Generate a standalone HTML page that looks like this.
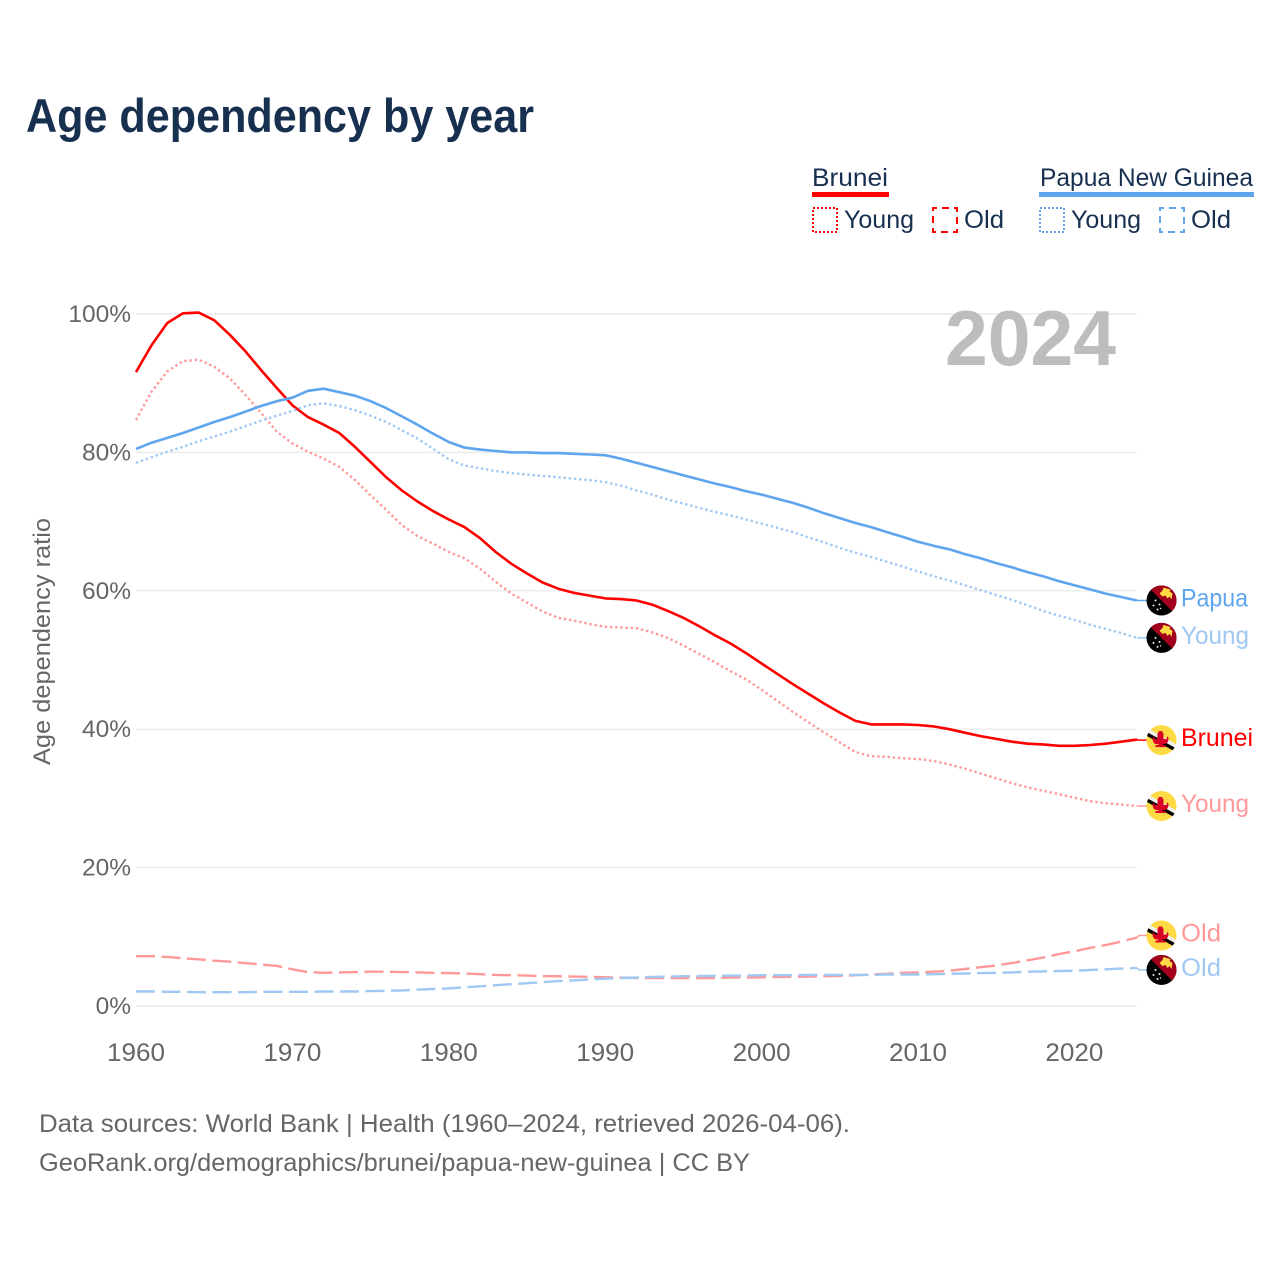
<!DOCTYPE html>
<html lang="en">
<head>
<meta charset="utf-8">
<title>Age dependency by year</title>
<style>
html,body{margin:0;padding:0;background:#fff;}
svg{display:block;font-family:"Liberation Sans",sans-serif;}
</style>
</head>
<body>
<svg id="chart" xmlns="http://www.w3.org/2000/svg" width="1280" height="1280" viewBox="0 0 1280 1280">
  <defs>
    <clipPath id="flag-clip"><circle cx="0" cy="0" r="15"/></clipPath>
    <g id="flag-png">
      <g clip-path="url(#flag-clip)">
        <rect x="-16" y="-16" width="32" height="32" fill="#000"/>
        <path d="M-16,-16H16V16Z" fill="#a2001d"/>
        <path d="M-2,-7l3,-3l1,-3l3,1l4,1l-1,2l3,2l-1,6l-2,-3l-2,2l-2,-3l-3,1z" fill="#ffda44"/>
        <g fill="#eee">
          <circle cx="-6" cy="0" r="1"/><circle cx="-2" cy="4" r="1"/><circle cx="-8" cy="5" r="1"/><circle cx="-4" cy="9" r="1"/><circle cx="-1" cy="8" r=".7"/>
        </g>
      </g>
    </g>
    <g id="flag-brunei">
      <g clip-path="url(#flag-clip)">
        <rect x="-16" y="-16" width="32" height="32" fill="#ffda44"/>
        <path d="M-18,-10L16,9L16,13L-18,-6Z" fill="#000"/>
        <path d="M-18,-14L16,5L16,9L-18,-10Z" fill="#f0f0f0"/>
        <path d="M-1,-9h2v2h1v6h3l1,-3l1,2c0,4,-2,6,-4,6h-2v1h3v2h-10v-2h3v-1h-2c-2,0,-4,-2,-4,-6l1,-2l1,3h3v-6h1v-2z" fill="#d80027"/>
      </g>
    </g>
  </defs>
  <rect x="0" y="0" width="1280" height="1280" fill="#fff"/>

  <text x="26" y="132" font-size="47" font-weight="700" fill="#18304f" textLength="508" lengthAdjust="spacingAndGlyphs">Age dependency by year</text>

  <g font-size="25" fill="#18304f">
    <text x="812" y="186" textLength="76" lengthAdjust="spacingAndGlyphs">Brunei</text>
    <rect x="812" y="192" width="77" height="5" fill="#ff0000"/>
    <rect x="813" y="208" width="24" height="24" fill="none" stroke="#ff0000" stroke-width="2" stroke-dasharray="2 2"/>
    <text x="844" y="228" textLength="70" lengthAdjust="spacingAndGlyphs">Young</text>
    <rect x="933" y="208" width="24" height="24" fill="none" stroke="#ff0000" stroke-width="2" stroke-dasharray="7 5" stroke-dashoffset="3"/>
    <text x="964" y="228" textLength="40" lengthAdjust="spacingAndGlyphs">Old</text>
    <text x="1040" y="186" textLength="213" lengthAdjust="spacingAndGlyphs">Papua New Guinea</text>
    <rect x="1039" y="192" width="215" height="5" fill="#5fa5ee"/>
    <rect x="1040" y="208" width="24" height="24" fill="none" stroke="#5fa5ee" stroke-width="2" stroke-dasharray="2 2"/>
    <text x="1071" y="228" textLength="70" lengthAdjust="spacingAndGlyphs">Young</text>
    <rect x="1160" y="208" width="24" height="24" fill="none" stroke="#5fa5ee" stroke-width="2" stroke-dasharray="7 5" stroke-dashoffset="3"/>
    <text x="1191" y="228" textLength="40" lengthAdjust="spacingAndGlyphs">Old</text>
  </g>

  <text transform="translate(50,765) rotate(-90)" font-size="24" fill="#666" textLength="247" lengthAdjust="spacingAndGlyphs">Age dependency ratio</text>

  <g id="grid"></g>
  <g id="y-ticks"></g>
  <g id="x-ticks"></g>

  <text x="945" y="365" font-size="78" font-weight="700" fill="#bdbdbd" textLength="171" lengthAdjust="spacingAndGlyphs">2024</text>

  <g id="series"></g>
  <g id="end-labels"></g>

  <g font-size="25" fill="#666">
    <text x="39" y="1132" textLength="811" lengthAdjust="spacingAndGlyphs">Data sources: World Bank | Health (1960–2024, retrieved 2026-04-06).</text>
    <text x="39" y="1171" textLength="711" lengthAdjust="spacingAndGlyphs">GeoRank.org/demographics/brunei/papua-new-guinea | CC BY</text>
  </g>
</svg>
<script>
const yearStart = 1960;
const yTickValues = [0, 20, 40, 60, 80, 100];
const xTickValues = [1960, 1970, 1980, 1990, 2000, 2010, 2020];

const bruneiTotal = [
  91.6,95.5,98.7,100.1,100.2,99.1,97.0,94.6,91.9,89.3,
  86.8,85.1,84.0,82.8,80.8,78.6,76.4,74.5,72.9,71.5,
  70.3,69.2,67.6,65.6,63.9,62.5,61.2,60.3,59.7,59.3,
  58.9,58.8,58.6,58.0,57.1,56.1,54.9,53.6,52.4,51.0,
  49.5,48.0,46.5,45.1,43.7,42.4,41.2,40.7,40.7,40.7,
  40.6,40.4,40.0,39.5,39.0,38.6,38.2,37.9,37.8,37.6,
  37.6,37.7,37.9,38.2,38.5
];
const bruneiYoung = [
  84.7,88.8,91.7,93.2,93.4,92.4,90.7,88.3,85.7,83.0,
  81.3,80.1,79.1,77.9,76.0,73.8,71.7,69.5,67.9,66.8,
  65.6,64.7,63.2,61.3,59.6,58.3,57.0,56.1,55.7,55.2,
  54.8,54.7,54.6,54.0,53.2,52.1,50.9,49.7,48.4,47.2,
  45.7,44.1,42.5,41.0,39.5,38.1,36.7,36.1,36.0,35.8,
  35.7,35.4,34.9,34.3,33.6,32.9,32.2,31.6,31.1,30.6,
  30.1,29.6,29.3,29.1,28.9
];
const bruneiOld = [
  7.2,7.2,7.1,6.9,6.75,6.55,6.4,6.2,6.0,5.8,
  5.3,4.9,4.8,4.85,4.9,4.95,4.95,4.9,4.85,4.8,
  4.75,4.7,4.6,4.5,4.45,4.4,4.3,4.3,4.25,4.2,
  4.15,4.1,4.05,4.05,4.05,4.05,4.05,4.05,4.1,4.1,
  4.15,4.2,4.2,4.25,4.3,4.35,4.45,4.55,4.65,4.8,
  4.85,4.95,5.1,5.35,5.6,5.85,6.2,6.6,7.0,7.5,
  7.9,8.4,8.8,9.3,9.9
];
const pngTotal = [
  80.5,81.4,82.1,82.8,83.6,84.4,85.1,85.9,86.7,87.4,
  87.9,88.9,89.2,88.7,88.2,87.4,86.4,85.2,84.0,82.7,
  81.5,80.7,80.4,80.2,80.0,80.0,79.9,79.9,79.8,79.7,
  79.6,79.1,78.5,77.9,77.3,76.7,76.1,75.5,75.0,74.4,
  73.9,73.3,72.7,72.0,71.2,70.5,69.8,69.2,68.5,67.8,
  67.1,66.5,66.0,65.3,64.7,64.0,63.4,62.7,62.1,61.4,
  60.8,60.2,59.6,59.1,58.6
];
const pngYoung = [
  78.5,79.3,80.1,80.8,81.6,82.3,83.0,83.8,84.6,85.3,
  86.0,86.8,87.1,86.7,86.1,85.3,84.4,83.2,82.0,80.5,
  79.0,78.1,77.7,77.3,77.0,76.8,76.6,76.4,76.2,76.0,
  75.7,75.2,74.5,73.9,73.2,72.6,72.0,71.4,70.9,70.3,
  69.7,69.1,68.5,67.7,67.0,66.2,65.5,64.9,64.2,63.5,
  62.8,62.1,61.5,60.8,60.1,59.4,58.7,57.9,57.1,56.4,
  55.8,55.1,54.5,53.9,53.2
];
const pngOld = [
  2.1,2.1,2.05,2.05,2.0,2.0,2.0,2.0,2.05,2.05,
  2.05,2.05,2.1,2.1,2.1,2.15,2.2,2.25,2.35,2.45,
  2.55,2.7,2.85,3.0,3.15,3.3,3.45,3.6,3.7,3.85,
  3.95,4.05,4.1,4.2,4.25,4.3,4.35,4.35,4.4,4.4,
  4.45,4.45,4.45,4.5,4.5,4.5,4.5,4.5,4.55,4.55,
  4.55,4.6,4.65,4.7,4.75,4.8,4.85,4.95,5.0,5.05,
  5.1,5.2,5.3,5.4,5.5
];

const NS = 'http://www.w3.org/2000/svg';
function xScale(year) { return 136 + (year - yearStart) * 15.64; }
function yScale(v) { return 1006 - v * 6.92; }
function mk(tag, attrs, parent) {
  const el = document.createElementNS(NS, tag);
  for (const k in attrs) el.setAttribute(k, attrs[k]);
  parent.appendChild(el);
  return el;
}

const gridG = document.getElementById('grid');
const yG = document.getElementById('y-ticks');
const xG = document.getElementById('x-ticks');

yTickValues.forEach(function (v) {
  const line = mk('line', {x1: 136, x2: xScale(2024), y1: yScale(v), y2: yScale(v), stroke: '#ececec', 'stroke-width': 1.5}, gridG);
  
  
  const t = mk('text', {x: 131, y: yScale(v) + 8, 'text-anchor': 'end', 'font-size': 24.5, fill: '#666'}, yG);
  
  
  t.textContent = v + '%';
});

xTickValues.forEach(function (yr) {
  const t = mk('text', {x: xScale(yr), y: 1061, 'text-anchor': 'middle', 'font-size': 25, fill: '#666', textLength: 58, lengthAdjust: 'spacingAndGlyphs'}, xG);
  
  
  t.textContent = yr;
});

const seriesList = [
  {key: 'brunei-old', values: bruneiOld, color: '#ff9999', width: 2.4, dash: '19 6.5', label: 'Old', flag: 'flag-brunei', nudge: -2, textLen: 40},
  {key: 'brunei-young', values: bruneiYoung, color: '#ff9999', width: 2.4, dash: '2.4 2.8', label: 'Young', flag: 'flag-brunei', nudge: 0, textLen: 68},
  {key: 'brunei-total', values: bruneiTotal, color: '#ff0000', width: 2.6, dash: '', label: 'Brunei', flag: 'flag-brunei', nudge: 0.5, textLen: 72},
  {key: 'png-old', values: pngOld, color: '#9fc8f3', width: 2.4, dash: '19 6.5', label: 'Old', flag: 'flag-png', nudge: 2, textLen: 40},
  {key: 'png-young', values: pngYoung, color: '#9fc8f3', width: 2.4, dash: '2.4 2.8', label: 'Young', flag: 'flag-png', nudge: 0, textLen: 68},
  {key: 'png-total', values: pngTotal, color: '#5fa5ee', width: 2.6, dash: '', label: 'Papua', flag: 'flag-png', nudge: 0, textLen: 67}
];

const seriesG = document.getElementById('series');
const labelsG = document.getElementById('end-labels');

seriesList.forEach(function (s) {
  const pts = s.values.map(function (v, i) { return xScale(yearStart + i).toFixed(1) + ',' + yScale(v).toFixed(1); });
  const attrs = {d: 'M' + pts.join('L'), fill: 'none', stroke: s.color, 'stroke-width': s.width, 'stroke-linejoin': 'round'};
  if (s.dash) attrs['stroke-dasharray'] = s.dash;
  const path = mk('path', attrs, seriesG);
  
  

  const endX = xScale(yearStart + s.values.length - 1);
  const endY = yScale(s.values[s.values.length - 1]);
  const flagY = endY + s.nudge;

  const conn = mk('path', {d: 'M' + endX + ',' + endY + 'L' + (endX + 2) + ',' + flagY + 'L1147,' + flagY, fill: 'none', stroke: s.color, 'stroke-width': 1.5}, labelsG);
  
  

  const flag = mk('use', {href: '#' + s.flag, transform: 'translate(1161.5,' + flagY + ')'}, labelsG);
  
  

  const label = mk('text', {x: 1181, y: flagY + 6, 'font-size': 25, fill: s.color, textLength: s.textLen, lengthAdjust: 'spacingAndGlyphs'}, labelsG);
  
  
  label.textContent = s.label;
});
</script>
</body>
</html>
